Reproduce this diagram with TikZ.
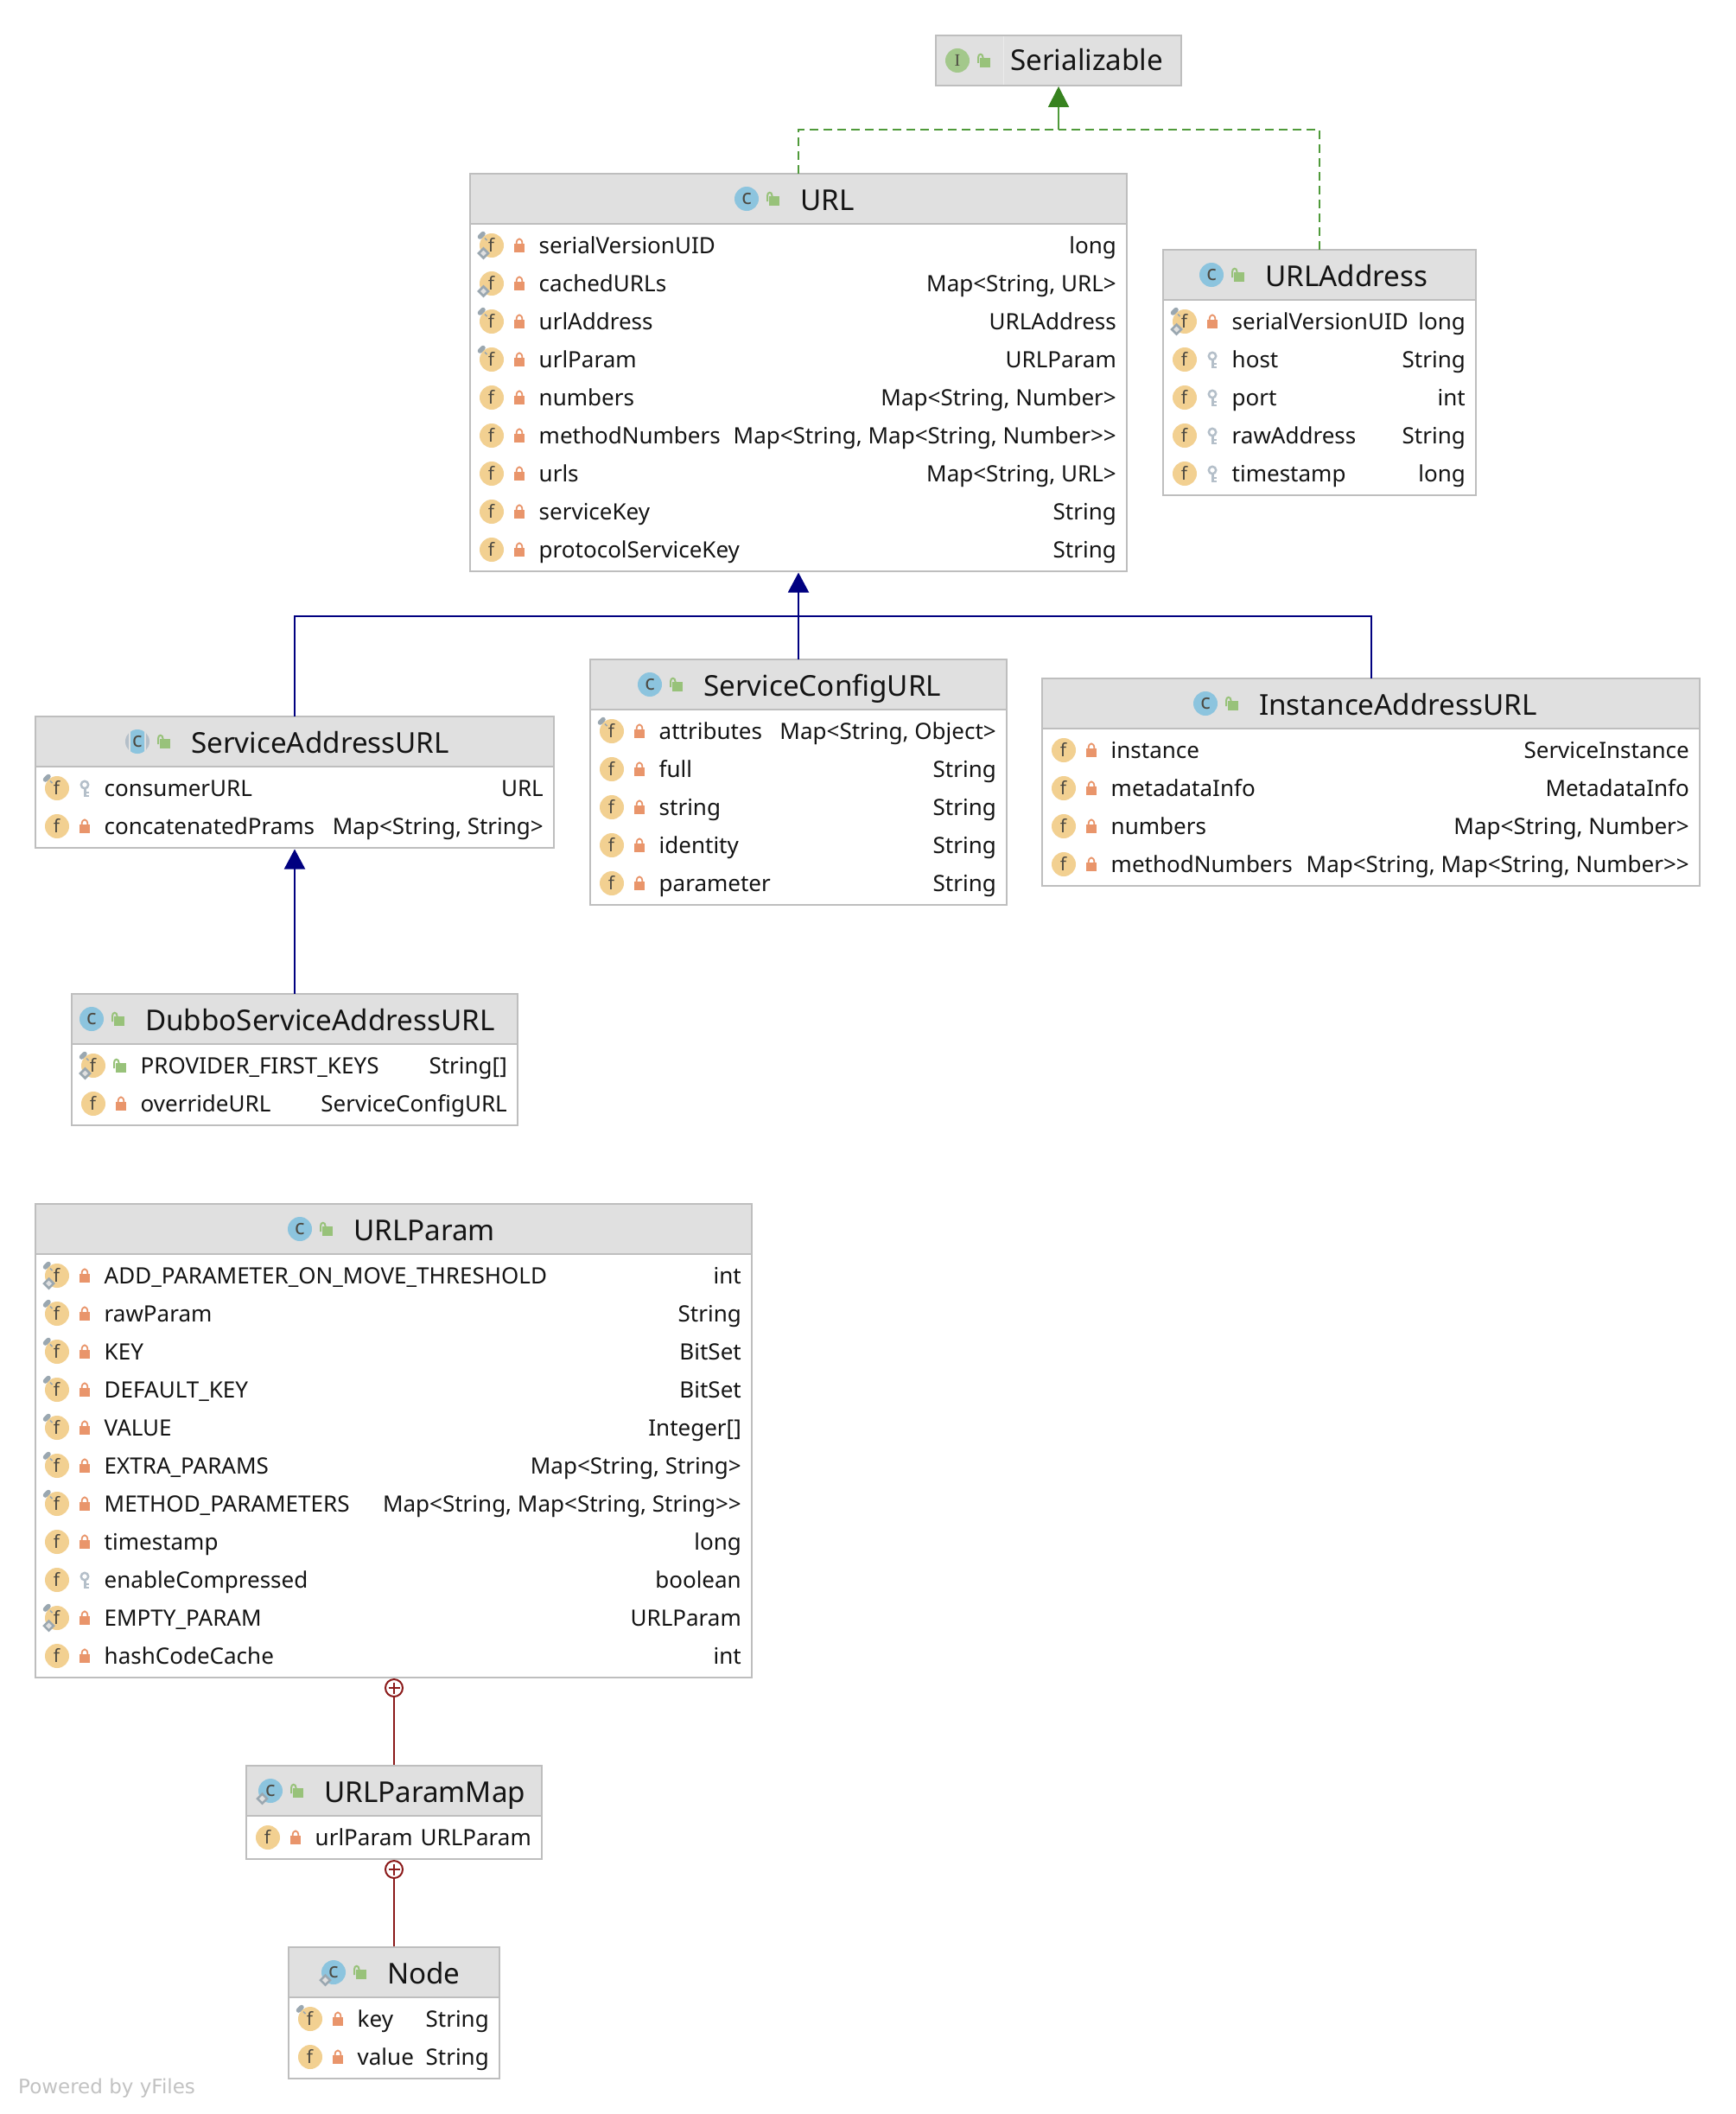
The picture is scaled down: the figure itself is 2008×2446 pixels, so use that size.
\documentclass[tikz,border=0pt]{standalone}
\usepackage{fontspec}
\usetikzlibrary{arrows.meta}
\newfontfamily\ui{Noto Sans}
\newfontfamily\slab{Liberation Serif}
\newfontfamily\yf{DejaVu Sans}
\definecolor{boxline}{HTML}{BEBEBE}
\definecolor{headfill}{HTML}{E0E0E0}
\definecolor{lockred}{HTML}{E9956B}
\definecolor{lockgreen}{HTML}{98C27A}
\definecolor{keygrey}{HTML}{B4BFC9}
\definecolor{fcol}{HTML}{F2D091}
\definecolor{ccol}{HTML}{8CC4DE}
\definecolor{icol}{HTML}{A3C88B}
\definecolor{pincol}{HTML}{9AA7B0}
\definecolor{inkdark}{HTML}{4D4A42}
\definecolor{navyline}{HTML}{000080}
\definecolor{greenline}{HTML}{4F9A3A}
\definecolor{greenhead}{HTML}{37821F}
\definecolor{redline}{HTML}{8B1A1A}
\tikzset{
  umlbox/.style={draw=boxline,line width=2pt,fill=white,inner sep=0pt,outer sep=0pt,anchor=north west,rectangle},
  umlhead/.style={umlbox,fill=headfill},
  title/.style={font=\ui\fontsize{33.2}{38}\selectfont,text=black!92,inner sep=0pt,anchor=base west},
  fname/.style={font=\ui\fontsize{26}{30}\selectfont,text=black!92,inner sep=0pt,anchor=base west},
  ftype/.style={font=\ui\fontsize{26}{30}\selectfont,text=black!92,inner sep=0pt,anchor=base east},
  letterf/.style={font=\ui\fontsize{21}{24}\selectfont,text=inkdark,inner sep=0pt,anchor=base},
  letterc/.style={font=\ui\fontsize{24}{24}\selectfont,text=inkdark,inner sep=0pt,anchor=base},
  letteri/.style={font=\slab\fontsize{20}{24}\selectfont,text=inkdark,inner sep=0pt,anchor=base},
  ext/.style={draw=navyline,line width=2pt},
  exthead/.style={ext,-{Triangle[length=23pt,width=24pt]},shorten >=1.5pt},
  impl/.style={draw=greenline,line width=2pt,dash pattern=on 10pt off 6pt},
  implhead/.style={draw=greenline,line width=2pt,-{Triangle[length=24pt,width=24pt,color=greenhead]},shorten >=1pt},
  nest/.style={draw=redline,line width=2pt},
  nestplus/.style={circle,draw=redline,line width=2pt,fill=white,minimum size=20pt,inner sep=0pt,outer sep=0pt},
  powered/.style={font=\yf\fontsize{23}{27}\selectfont,text=black!24,inner sep=0pt,anchor=base west},
}
\newcounter{tn}
\newcount\rowy
\def\curL{0}\def\curR{0}
% field overlays
\def\ovPin{\draw[pincol,line width=5.5pt,line cap=round] (-13.5,-10) -- (-10,-13.5);
  \draw[pincol,line width=1.5pt] (-8,-8.5) -- (-5.5,-6);}
\def\ovDia{\draw[pincol,line width=2.5pt,fill=headfill] (-9.5,3.5) -- (-4,9) -- (-9.5,14.5) -- (-15,9) -- cycle;}
\def\ovn{}
\def\ovp{\ovPin}
\def\ovd{\ovDia}
\def\ovb{\ovPin\ovDia}
% visibility icons
\def\vislock{\fill[lockred] (26,-2.3) rectangle (38,7.7);
  \draw[lockred,line width=1.8pt] (28.6,-2) .. controls (28.6,-9.5) and (35.4,-9.5) .. (35.4,-2);}
\def\visopen{\fill[lockgreen] (26,-2.7) rectangle (38,8);
  \draw[lockgreen,line width=2pt] (24,3) -- (24,-3.5) .. controls (24,-8.5) and (29.5,-8.5) .. (29.5,-3.5) -- (29.5,-1);}
\def\viskey{\draw[keygrey,line width=2.5pt] (32,-4) circle (4.2pt);
  \draw[keygrey,line width=2.8pt] (32.3,0) -- (32.3,10);
  \draw[keygrey,line width=2pt] (32.3,5) -- (36.5,5) (32.3,9) -- (36.5,9);}
\newcommand\Shell[5]{%
  \node[umlbox,minimum width=\the\numexpr#4-#2\relax pt,minimum height=\the\numexpr#5-#3\relax pt] (#1) at (#2,#3) {};
  \gdef\curL{#2}\gdef\curR{#4}%
  \global\rowy=\numexpr#3+83\relax
}
\newcommand\Head[5]{%
  \node[umlhead,minimum width=\the\numexpr#4-#2\relax pt,minimum height=58pt] (#1head) at (#2,#3) {};
}
% name, L,T,R,B, text x, title, kind
\newcommand\ClassBox[8]{%
  \Shell{#1}{#2}{#3}{#4}{#5}\Head{#1}{#2}{#3}{#4}{#5}%
  \HeadIcons{#6}{#3}{#8}\stepcounter{tn}%
  \node[title] (t\arabic{tn}) at (#6,\the\numexpr#3+42\relax) {#7};
}
\def\kindn{\fill[ccol] (0,0) circle (14pt);}
\def\kinds{\fill[ccol] (0,0) circle (14pt);
  \draw[pincol,line width=2.5pt,fill=headfill] (-9.5,3.5) -- (-4,9) -- (-9.5,14.5) -- (-15,9) -- cycle;}
\def\kinda{\fill[keygrey] (0,0) circle (14pt);
  \fill[headfill] (-10,-14) rectangle (10,14);
  \begin{scope}\clip (0,0) circle (14pt);\fill[ccol,rounded corners=2pt] (-8,-14) rectangle (8,14);\end{scope}}
\newcommand\HeadIcons[3]{%
  \begin{scope}[shift={(\the\numexpr#1-62\relax,\the\numexpr#2+29\relax)}]
    \csname kind#3\endcsname
    \stepcounter{tn}\node[letterc] (t\arabic{tn}) at (0,6) {c};
    \visopen
  \end{scope}
}
% overlay, vis, name, type
\newcommand\Fld[4]{%
  \edef\fy{\the\rowy}\edef\fx{\the\numexpr\curL+25\relax}%
  \begin{scope}[shift={(\fx,\fy)}]
    \fill[fcol] (0,0) circle (14pt);
    \csname ov#1\endcsname
    \stepcounter{tn}\node[letterf] (t\arabic{tn}) at (-0.5,7.5) {f};
    \csname vis#2\endcsname
    \stepcounter{tn}\node[fname] (t\arabic{tn}) at (54.5,9) {#3};
    \stepcounter{tn}\node[ftype] (t\arabic{tn}) at (\the\numexpr\curR-\fx-12\relax,9) {#4};
  \end{scope}
  \global\advance\rowy by 44
}
\begin{document}
\begin{tikzpicture}[x=1pt,y=-1pt]
\useasboundingbox (0,0) rectangle (2008,2446);

% Serializable
\node[umlhead,minimum width=284pt,minimum height=58pt] (ser) at (1083,41) {};
\draw[white!92!black,line width=1pt] (1161,42) -- (1161,98);
\begin{scope}[shift={(1108,70)}]
  \fill[icol] (0,0) circle (14pt);
  \node[letteri] (sericon) at (0,6.5) {I};
  \visopen
\end{scope}
\node[title] (sertext) at (1169,82) {Serializable};

% URL
\ClassBox{url}{544}{201}{1304}{661}{926}{URL}{n}
\Fld{b}{lock}{serialVersionUID}{long}
\Fld{d}{lock}{cachedURLs}{Map<String, URL>}
\Fld{p}{lock}{urlAddress}{URLAddress}
\Fld{p}{lock}{urlParam}{URLParam}
\Fld{n}{lock}{numbers}{Map<String, Number>}
\Fld{n}{lock}{methodNumbers}{Map<String, Map<String, Number>>}
\Fld{n}{lock}{urls}{Map<String, URL>}
\Fld{n}{lock}{serviceKey}{String}
\Fld{n}{lock}{protocolServiceKey}{String}

% URLAddress
\ClassBox{addr}{1346}{289}{1708}{573}{1464}{URLAddress}{n}
\Fld{b}{lock}{serialVersionUID}{long}
\Fld{n}{key}{host}{String}
\Fld{n}{key}{port}{int}
\Fld{n}{key}{rawAddress}{String}
\Fld{n}{key}{timestamp}{long}

% ServiceAddressURL
\ClassBox{sa}{41}{829}{641}{981}{221}{ServiceAddressURL}{a}
\Fld{p}{key}{consumerURL}{URL}
\Fld{n}{lock}{concatenatedPrams}{Map<String, String>}

% ServiceConfigURL
\ClassBox{sc}{683}{763}{1165}{1047}{814}{ServiceConfigURL}{n}
\Fld{p}{lock}{attributes}{Map<String, Object>}
\Fld{n}{lock}{full}{String}
\Fld{n}{lock}{string}{String}
\Fld{n}{lock}{identity}{String}
\Fld{n}{lock}{parameter}{String}

% InstanceAddressURL
\ClassBox{ia}{1206}{785}{1967}{1025}{1457}{InstanceAddressURL}{n}
\Fld{n}{lock}{instance}{ServiceInstance}
\Fld{n}{lock}{metadataInfo}{MetadataInfo}
\Fld{n}{lock}{numbers}{Map<String, Number>}
\Fld{n}{lock}{methodNumbers}{Map<String, Map<String, Number>>}

% DubboServiceAddressURL
\ClassBox{du}{83}{1150}{599}{1302}{168}{DubboServiceAddressURL}{n}
\Fld{b}{open}{PROVIDER\_FIRST\_KEYS}{String[]}
\Fld{n}{lock}{overrideURL}{ServiceConfigURL}

% URLParam
\ClassBox{up}{41}{1393}{870}{1941}{409}{URLParam}{n}
\Fld{b}{lock}{ADD\_PARAMETER\_ON\_MOVE\_THRESHOLD}{int}
\Fld{p}{lock}{rawParam}{String}
\Fld{p}{lock}{KEY}{BitSet}
\Fld{p}{lock}{DEFAULT\_KEY}{BitSet}
\Fld{p}{lock}{VALUE}{Integer[]}
\Fld{p}{lock}{EXTRA\_PARAMS}{Map<String, String>}
\Fld{p}{lock}{METHOD\_PARAMETERS}{Map<String, Map<String, String>>}
\Fld{n}{lock}{timestamp}{long}
\Fld{n}{key}{enableCompressed}{boolean}
\Fld{b}{lock}{EMPTY\_PARAM}{URLParam}
\Fld{n}{lock}{hashCodeCache}{int}

% URLParamMap
\ClassBox{um}{285}{2043}{627}{2151}{375}{URLParamMap}{s}
\Fld{n}{lock}{urlParam}{URLParam}

% Node
\ClassBox{nd}{334}{2253}{578}{2405}{448}{Node}{s}
\Fld{p}{lock}{key}{String}
\Fld{n}{lock}{value}{String}

% connectors
\coordinate (jser) at (1225,150);
\coordinate (jurl) at (924,713);
\draw[impl] (url.north) |- (jser);
\draw[impl] (addr.north) |- (jser);
\draw[implhead] (jser) -- (ser.south);
\draw[ext] (sa.north) |- (jurl);
\draw[ext] (ia.north) |- (jurl);
\draw[exthead] (sc.north) -- (url.south);
\draw[exthead] (du.north) -- (sa.south);
\node[nestplus] (p1) at (456,1953) {};
\node[nestplus] (p2) at (456,2163) {};
\draw[redline,line width=2pt] (p1.center) ++(-6.5,0) -- ++(13,0) (p1.center) ++(0,-6.5) -- ++(0,13);
\draw[redline,line width=2pt] (p2.center) ++(-6.5,0) -- ++(13,0) (p2.center) ++(0,-6.5) -- ++(0,13);
\draw[nest,shorten >=1.5pt] (p1) -- (um.north);
\draw[nest,shorten >=1.5pt] (p2) -- (nd.north);

\node[powered] (pw) at (21,2422) {Powered by yFiles};
\end{tikzpicture}
\end{document}
